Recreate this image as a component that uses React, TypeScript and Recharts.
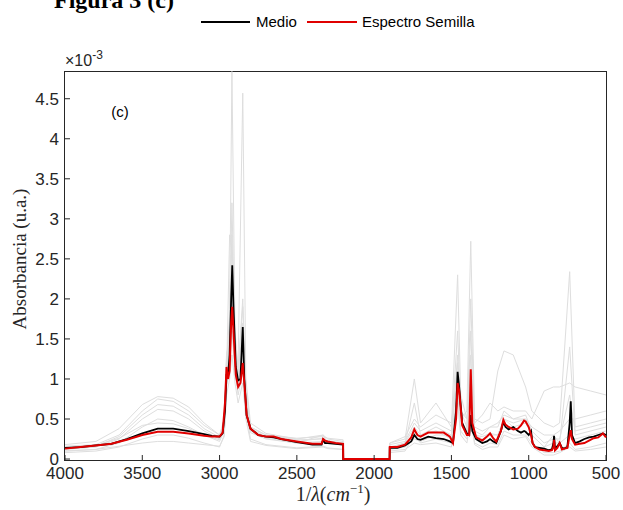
import React from "react";
import { LineChart, Line, XAxis, YAxis } from "recharts";

// values are in units of 1e-3 (the axis shows x10^-3)
const X_TICKS = [4000, 3500, 3000, 2500, 2000, 1500, 1000, 500];
const Y_TICKS = [0, 0.5, 1, 1.5, 2, 2.5, 3, 3.5, 4, 4.5];

const WAVENUMBERS = [
	4000, 3900, 3800, 3700, 3600, 3500, 3400, 3300, 3200, 3100,
	3050, 3000, 2980, 2965, 2955, 2945, 2935, 2925, 2918, 2910,
	2895, 2880, 2865, 2850, 2840, 2825, 2800, 2750, 2700, 2650,
	2600, 2500, 2400, 2340, 2330, 2318, 2300, 2250, 2201, 2200,
	1900, 1899, 1850, 1800, 1760, 1740, 1720, 1700, 1650, 1600,
	1550, 1510, 1490, 1470, 1460, 1450, 1430, 1400, 1385, 1375,
	1365, 1340, 1300, 1270, 1250, 1230, 1210, 1180, 1164, 1150,
	1130, 1100, 1070, 1050, 1030, 1020, 1000, 985, 975, 960,
	930, 900, 870, 850, 840, 836, 830, 815, 800, 785,
	770, 750, 735, 728, 720, 700, 670, 640, 610, 580,
	550, 520, 500,
];

const MEDIO = [
	0.14, 0.15, 0.17, 0.19, 0.25, 0.32, 0.38, 0.38, 0.35, 0.31,
	0.29, 0.28, 0.32, 0.6, 1.05, 1.05, 1.3, 2.0, 2.42, 1.9,
	1.15, 0.98, 1.0, 1.65, 1.0, 0.55, 0.38, 0.3, 0.28, 0.27,
	0.25, 0.21, 0.18, 0.18, 0.24, 0.2, 0.2, 0.19, 0.18, 0,
	0, 0.14, 0.14, 0.17, 0.22, 0.3, 0.25, 0.24, 0.28, 0.26,
	0.25, 0.22, 0.2, 0.6, 1.09, 0.9, 0.45, 0.32, 0.3, 0.55,
	0.35, 0.25, 0.2, 0.22, 0.25, 0.22, 0.2, 0.35, 0.46, 0.4,
	0.37, 0.4, 0.35, 0.33, 0.35, 0.34, 0.3, 0.35, 0.2, 0.15,
	0.14, 0.13, 0.11, 0.12, 0.2, 0.29, 0.13, 0.16, 0.2, 0.14,
	0.13, 0.15, 0.45, 0.72, 0.3, 0.2, 0.22, 0.25, 0.27, 0.28,
	0.3, 0.32, 0.3,
];

const SEMILLA = [
	0.13, 0.15, 0.17, 0.19, 0.24, 0.3, 0.34, 0.34, 0.32, 0.29,
	0.28, 0.28, 0.33, 0.7, 1.15, 1.0, 1.1, 1.7, 1.9, 1.6,
	1.05, 0.9, 0.95, 1.2, 0.95, 0.55, 0.38, 0.3, 0.28, 0.28,
	0.25, 0.22, 0.19, 0.19, 0.25, 0.23, 0.22, 0.2, 0.19, 0,
	0, 0.15, 0.15, 0.18, 0.27, 0.37, 0.3, 0.28, 0.33, 0.33,
	0.33, 0.28, 0.2, 0.5, 0.95, 0.85, 0.42, 0.3, 0.3, 1.12,
	0.45, 0.27, 0.23, 0.28, 0.32, 0.26, 0.22, 0.35, 0.49, 0.43,
	0.4, 0.37, 0.38, 0.42, 0.48, 0.47, 0.4, 0.3, 0.2, 0.15,
	0.12, 0.11, 0.1, 0.11, 0.15, 0.24, 0.11, 0.14, 0.2, 0.12,
	0.13, 0.14, 0.3, 0.36, 0.25, 0.18, 0.19, 0.2, 0.23, 0.26,
	0.27, 0.32, 0.27,
];

// individual spectra (grey), coarser grid
const GRAY_WAVENUMBERS = [
	4000, 3800, 3650, 3500, 3400, 3300, 3200, 3100, 3000, 2970,
	2955, 2935, 2920, 2900, 2880, 2850, 2830, 2800, 2700, 2500,
	2330, 2300, 2201, 2200, 1900, 1899, 1800, 1740, 1700, 1600,
	1500, 1460, 1440, 1400, 1375, 1350, 1300, 1250, 1200, 1160,
	1100, 1020, 980, 900, 840, 800, 735, 700, 600, 500,
];

const GRAY_1 = [
	0.12, 0.15, 0.25, 0.5, 0.62, 0.6, 0.5, 0.35, 0.25, 0.4,
	1.2, 1.8, 4.84, 1.6, 1.1, 2.0, 0.9, 0.4, 0.3, 0.24,
	0.25, 0.23, 0.2, 0, 0, 0.15, 0.2, 0.4, 0.3, 0.35,
	0.25, 1.3, 0.5, 0.35, 1.6, 0.3, 0.25, 0.3, 0.3, 0.5,
	0.4, 0.45, 0.3, 0.15, 0.2, 0.2, 0.3, 0.25, 0.3, 0.35,
];
const GRAY_2 = [
	0.16, 0.18, 0.3, 0.6, 0.75, 0.72, 0.6, 0.42, 0.3, 0.45,
	1.3, 1.5, 2.2, 1.3, 1.2, 4.57, 1.0, 0.45, 0.32, 0.25,
	0.3, 0.25, 0.22, 0, 0, 0.2, 0.25, 1.0, 0.45, 0.7,
	0.4, 2.3, 0.8, 0.5, 0.9, 0.4, 0.35, 0.4, 0.45, 0.55,
	0.5, 0.5, 0.4, 0.3, 0.3, 0.35, 0.5, 0.5, 0.55, 0.6,
];
const GRAY_3 = [
	0.1, 0.12, 0.2, 0.4, 0.5, 0.48, 0.4, 0.3, 0.22, 0.35,
	1.0, 2.8, 2.6, 1.4, 0.9, 1.5, 0.7, 0.35, 0.26, 0.2,
	0.22, 0.2, 0.18, 0, 0, 0.12, 0.15, 0.25, 0.22, 0.3,
	0.3, 0.8, 0.5, 0.6, 2.72, 0.5, 0.45, 0.5, 1.1, 1.35,
	1.3, 0.9, 0.6, 0.45, 0.4, 0.45, 2.34, 0.4, 0.45, 0.5,
];
const GRAY_4 = [
	0.08, 0.1, 0.15, 0.25, 0.3, 0.3, 0.26, 0.2, 0.15, 0.3,
	0.9, 1.2, 1.6, 1.1, 0.8, 1.1, 0.6, 0.25, 0.18, 0.14,
	0.16, 0.14, 0.12, 0, 0, 0.1, 0.12, 0.2, 0.18, 0.2,
	0.15, 0.9, 0.35, 0.25, 0.7, 0.2, 0.15, 0.2, 0.18, 0.35,
	0.3, 0.3, 0.2, 0.08, 0.08, 0.1, 0.2, 0.12, 0.15, 0.2,
];
const GRAY_5 = [
	0.18, 0.22, 0.38, 0.68, 0.78, 0.76, 0.65, 0.45, 0.3, 0.5,
	1.1, 1.4, 2.0, 1.2, 1.0, 1.4, 0.8, 0.4, 0.3, 0.26,
	0.28, 0.26, 0.24, 0, 0, 0.2, 0.28, 0.5, 0.4, 0.55,
	0.45, 1.0, 0.6, 0.5, 1.1, 0.45, 0.55, 0.7, 0.6, 0.65,
	0.6, 0.6, 0.5, 0.85, 0.9, 0.9, 0.95, 0.9, 0.85, 0.8,
];
const GRAY_6 = [
	0.13, 0.16, 0.28, 0.55, 0.68, 0.66, 0.55, 0.38, 0.27, 0.42,
	1.25, 1.6, 3.2, 1.5, 1.1, 1.9, 0.85, 0.38, 0.28, 0.22,
	0.26, 0.22, 0.2, 0, 0, 0.18, 0.22, 0.45, 0.35, 0.45,
	0.35, 1.6, 0.6, 0.4, 2.0, 0.35, 0.3, 0.4, 0.4, 0.6,
	0.5, 0.55, 0.35, 0.2, 0.25, 0.25, 0.8, 0.35, 0.4, 0.45,
];
const GRAY_7 = [
	0.1, 0.12, 0.16, 0.2, 0.22, 0.22, 0.2, 0.18, 0.16, 0.28,
	0.8, 1.0, 1.3, 0.95, 0.7, 0.95, 0.5, 0.22, 0.17, 0.13,
	0.15, 0.13, 0.12, 0, 0, 0.08, 0.1, 0.3, 0.2, 0.25,
	0.2, 0.7, 0.3, 0.2, 0.5, 0.18, 0.12, 0.15, 0.15, 0.3,
	0.25, 0.28, 0.15, 0.05, 0.05, 0.08, 0.15, 0.1, 0.12, 0.15,
];
const GRAY_8 = [
	0.14, 0.17, 0.26, 0.42, 0.45, 0.44, 0.38, 0.3, 0.24, 0.38,
	1.15, 1.5, 2.8, 1.35, 1.05, 1.7, 0.75, 0.33, 0.25, 0.2,
	0.3, 0.2, 0.19, 0, 0, 0.14, 0.2, 0.7, 0.3, 0.4,
	0.3, 1.2, 0.45, 0.35, 1.3, 0.3, 0.28, 0.32, 0.3, 0.5,
	0.45, 0.5, 0.3, 0.15, 0.3, 0.2, 1.4, 0.3, 0.35, 0.4,
];

const GRAYS = [GRAY_1, GRAY_2, GRAY_3, GRAY_4, GRAY_5, GRAY_6, GRAY_7, GRAY_8];

const mainData = WAVENUMBERS.map((wn, i) => ({ wn, medio: MEDIO[i], semilla: SEMILLA[i] }));
const grayData = GRAYS.map((vals) => GRAY_WAVENUMBERS.map((wn, i) => ({ wn, v: vals[i] })));

const AXIS = "#262626";
const SANS = "'Liberation Sans', Arial, sans-serif";
const SERIF = "'Liberation Serif', 'Times New Roman', serif";
// a hair below zero so the zero-valued stretch sits on (not under) the bottom edge
const Y_DOMAIN: [number, number] = [-0.012, 4.84];

const BottomTick = ({ x, y, payload }: any) => (
	<g>
		<line x1={x} y1={y} x2={x} y2={y - 5} stroke={AXIS} />
		<text x={x} y={y + 19} textAnchor="middle" fontSize={17} fontFamily={SANS} fill={AXIS}>
			{payload.value}
		</text>
	</g>
);

const TopTick = ({ x, y }: any) => <line x1={x} y1={y} x2={x} y2={y + 5} stroke={AXIS} />;

const LeftTick = ({ x, y, payload }: any) => (
	<g>
		<line x1={x} y1={y} x2={x + 5} y2={y} stroke={AXIS} />
		<text x={x - 6} y={y + 6} textAnchor="end" fontSize={17} fontFamily={SANS} fill={AXIS}>
			{String(payload.value)}
		</text>
	</g>
);

const RightTick = ({ x, y }: any) => <line x1={x} y1={y} x2={x - 5} y2={y} stroke={AXIS} />;

export default function App() {
	return (
		<div style={{ position: "absolute", left: 0, top: 0, width: 623, height: 510, background: "#fff" }}>
			{/* axes box sits behind the plot so the series can draw over it */}
			<div
				style={{
					position: "absolute",
					left: 64,
					top: 71,
					width: 543,
					height: 390,
					boxSizing: "border-box",
					border: `1px solid ${AXIS}`,
				}}
			/>
			<div style={{ position: "absolute", left: 0, top: 0 }}>
				<LineChart width={623} height={510} margin={{ top: 71.5, right: 17, bottom: 0, left: 0 }}>
					<XAxis
						dataKey="wn"
						type="number"
						domain={[500, 4000]}
						reversed
						ticks={X_TICKS}
						interval={0}
						height={50}
						tickSize={0}
						tickMargin={0}
						tickLine={false}
						axisLine={false}
						tick={<BottomTick />}
					/>
					<XAxis
						xAxisId="top"
						orientation="top"
						dataKey="wn"
						type="number"
						domain={[500, 4000]}
						reversed
						ticks={X_TICKS}
						interval={0}
						height={0}
						tickSize={0}
						tickMargin={0}
						tickLine={false}
						axisLine={false}
						tick={<TopTick />}
					/>
					<YAxis
						type="number"
						domain={Y_DOMAIN}
						ticks={Y_TICKS}
						interval={0}
						width={65}
						tickSize={0}
						tickMargin={0}
						tickLine={false}
						axisLine={false}
						tick={<LeftTick />}
					/>
					<YAxis
						yAxisId="right"
						orientation="right"
						type="number"
						domain={Y_DOMAIN}
						ticks={Y_TICKS}
						interval={0}
						width={0}
						tickSize={0}
						tickMargin={0}
						tickLine={false}
						axisLine={false}
						tick={<RightTick />}
					/>
					{grayData.map((d, i) => (
						<Line
							key={i}
							data={d}
							dataKey="v"
							type="linear"
							stroke="#dedede"
							strokeWidth={1}
							dot={false}
							activeDot={false}
							isAnimationActive={false}
						/>
					))}
					<Line
						data={mainData}
						dataKey="medio"
						name="Medio"
						type="linear"
						stroke="#000"
						strokeWidth={1.8}
						dot={false}
						isAnimationActive={false}
					/>
					<Line
						data={mainData}
						dataKey="semilla"
						name="Espectro Semilla"
						type="linear"
						stroke="#e00000"
						strokeWidth={2}
						dot={false}
						isAnimationActive={false}
					/>
				</LineChart>
			</div>
			<svg width={623} height={510} style={{ position: "absolute", left: 0, top: 0, pointerEvents: "none" }}>
				<text x={174} y={8} textAnchor="end" fontSize={24} fontWeight="bold" fontFamily={SERIF}>
					Figura 3 (c)
				</text>
				<line x1={201} y1={22} x2={250} y2={22} stroke="#000" strokeWidth={1.8} />
				<text x={256} y={27} fontSize={15} fontFamily={SANS} fill="#000">Medio</text>
				<line x1={307} y1={22} x2={357} y2={22} stroke="#e00000" strokeWidth={1.8} />
				<text x={362} y={27} fontSize={15} fontFamily={SANS} fill="#000">Espectro Semilla</text>
				<text x={65} y={66} fontSize={16} fontFamily={SANS} fill={AXIS}>
					×10<tspan dy={-7} fontSize={12}>-3</tspan>
				</text>
				<text x={120} y={117} textAnchor="middle" fontSize={15} fontFamily={SANS} fill="#000">(c)</text>
				<text
					transform="translate(19,259) rotate(-90)"
					textAnchor="middle"
					dominantBaseline="central"
					fontSize={19}
					fontFamily={SERIF}
					fill={AXIS}
				>
					Absorbancia (u.a.)
				</text>
				<text x={333} y={501} textAnchor="middle" fontSize={20} fontFamily={SERIF} fill={AXIS}>
					1/<tspan fontStyle="italic">λ</tspan>(<tspan fontStyle="italic">cm</tspan>
					<tspan dy={-8} fontSize={13}>−1</tspan>
					<tspan dy={8}>)</tspan>
				</text>
			</svg>
		</div>
	);
}
